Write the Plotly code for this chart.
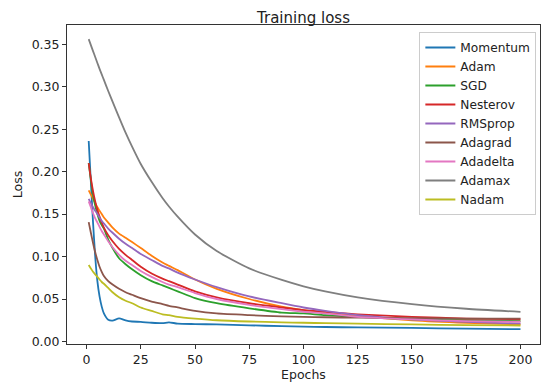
import plotly.graph_objects as go

epochs = [1, 2, 3, 4, 5, 6, 7, 8, 10, 12, 15, 18, 21, 25, 30, 35, 38, 42, 50, 60, 75, 90, 100, 110, 125, 150, 175, 200]

momentum = [0.236, 0.188, 0.140, 0.100, 0.071, 0.053, 0.041, 0.033, 0.0255, 0.0245, 0.0272, 0.0248, 0.0235, 0.023, 0.022, 0.0215, 0.0225, 0.021, 0.0205, 0.020, 0.019, 0.018, 0.0175, 0.017, 0.0165, 0.016, 0.015, 0.0145]
adam = [0.178, 0.173, 0.168, 0.163, 0.158, 0.154, 0.150, 0.146, 0.140, 0.134, 0.127, 0.122, 0.117, 0.110, 0.101, 0.093, 0.089, 0.084, 0.073, 0.062, 0.050, 0.041, 0.037, 0.034, 0.030, 0.025, 0.022, 0.020]
sgd = [0.210, 0.190, 0.172, 0.160, 0.150, 0.142, 0.137, 0.133, 0.120, 0.110, 0.098, 0.091, 0.085, 0.078, 0.071, 0.066, 0.063, 0.059, 0.051, 0.045, 0.039, 0.034, 0.033, 0.031, 0.029, 0.026, 0.025, 0.024]
nesterov = [0.210, 0.192, 0.177, 0.165, 0.155, 0.147, 0.140, 0.134, 0.125, 0.118, 0.109, 0.102, 0.096, 0.088, 0.080, 0.074, 0.071, 0.067, 0.059, 0.052, 0.045, 0.040, 0.037, 0.035, 0.032, 0.029, 0.027, 0.026]
rmsprop = [0.168, 0.163, 0.158, 0.154, 0.150, 0.146, 0.142, 0.139, 0.133, 0.128, 0.121, 0.115, 0.110, 0.103, 0.096, 0.089, 0.086, 0.081, 0.073, 0.064, 0.053, 0.045, 0.040, 0.036, 0.031, 0.026, 0.023, 0.021]
adagrad = [0.1405, 0.128, 0.116, 0.105, 0.096, 0.088, 0.082, 0.077, 0.071, 0.067, 0.062, 0.058, 0.055, 0.051, 0.047, 0.044, 0.042, 0.040, 0.036, 0.033, 0.031, 0.0295, 0.029, 0.0285, 0.028, 0.0275, 0.027, 0.027]
adadelta = [0.165, 0.158, 0.151, 0.145, 0.140, 0.135, 0.130, 0.126, 0.118, 0.111, 0.102, 0.095, 0.090, 0.083, 0.076, 0.070, 0.067, 0.064, 0.057, 0.050, 0.043, 0.038, 0.035, 0.033, 0.029, 0.026, 0.024, 0.023]
adamax = [0.356, 0.349, 0.342, 0.335, 0.328, 0.321, 0.3145, 0.308, 0.295, 0.2825, 0.264, 0.246, 0.2295, 0.209, 0.188, 0.169, 0.159, 0.147, 0.126, 0.1065, 0.086, 0.0725, 0.065, 0.059, 0.052, 0.044, 0.0385, 0.0348]
nadam = [0.090, 0.086, 0.082, 0.079, 0.076, 0.073, 0.070, 0.068, 0.063, 0.058, 0.052, 0.048, 0.045, 0.040, 0.036, 0.032, 0.031, 0.029, 0.027, 0.025, 0.0235, 0.0225, 0.022, 0.0215, 0.021, 0.020, 0.0193, 0.0188]

series_names = ["Momentum", "Adam", "SGD", "Nesterov", "RMSprop", "Adagrad", "Adadelta", "Adamax", "Nadam"]
series_values = [momentum, adam, sgd, nesterov, rmsprop, adagrad, adadelta, adamax, nadam]
colors = ["#1f77b4", "#ff7f0e", "#2ca02c", "#d62728", "#9467bd", "#8c564b", "#e377c2", "#7f7f7f", "#bcbd22"]

x_ticks = [0, 25, 50, 75, 100, 125, 150, 175, 200]
y_ticks = [0.00, 0.05, 0.10, 0.15, 0.20, 0.25, 0.30, 0.35]

FONT = "DejaVu Sans"
TXT = "#222222"

fig = go.Figure()
for name, vals, col in zip(series_names, series_values, colors):
    fig.add_trace(go.Scatter(x=epochs, y=vals, mode="lines", name=name,
                             line=dict(color=col, width=1.8, shape="spline", smoothing=0.6)))

axis_common = dict(showline=True, linecolor="#333333", linewidth=1, mirror=True,
                   showgrid=False, zeroline=False, ticks="outside", ticklen=4,
                   tickcolor="#333333", tickfont=dict(family=FONT, size=12.5, color=TXT))

# page body has an 8px margin, so the figure is sized and offset to compensate
fig.update_layout(
    width=542, height=382,
    margin=dict(l=51, r=9, t=17, b=46),
    paper_bgcolor="white", plot_bgcolor="white",
    title=dict(text="Training loss", x=0.5, xref="paper", xanchor="center",
               y=1 - 9.5 / 382, yanchor="middle",
               font=dict(family=FONT, size=15, color=TXT)),
    xaxis=dict(range=[-9, 209], tickvals=x_ticks, ticktext=[str(v) for v in x_ticks],
               title=dict(text="Epochs", standoff=4, font=dict(family=FONT, size=12.5, color=TXT)),
               **axis_common),
    yaxis=dict(range=[-0.003, 0.3727], tickvals=y_ticks, ticktext=["%.2f" % v for v in y_ticks],
               title=dict(text="Loss", standoff=6, font=dict(family=FONT, size=12.5, color=TXT)),
               **axis_common),
    legend=dict(x=0.9923, xanchor="right", y=0.978, yanchor="top",
                bgcolor="rgba(255,255,255,0.85)", bordercolor="#cccccc", borderwidth=1,
                font=dict(family=FONT, size=12.2, color=TXT)),
    showlegend=True,
)

fig.write_html("out.html")
